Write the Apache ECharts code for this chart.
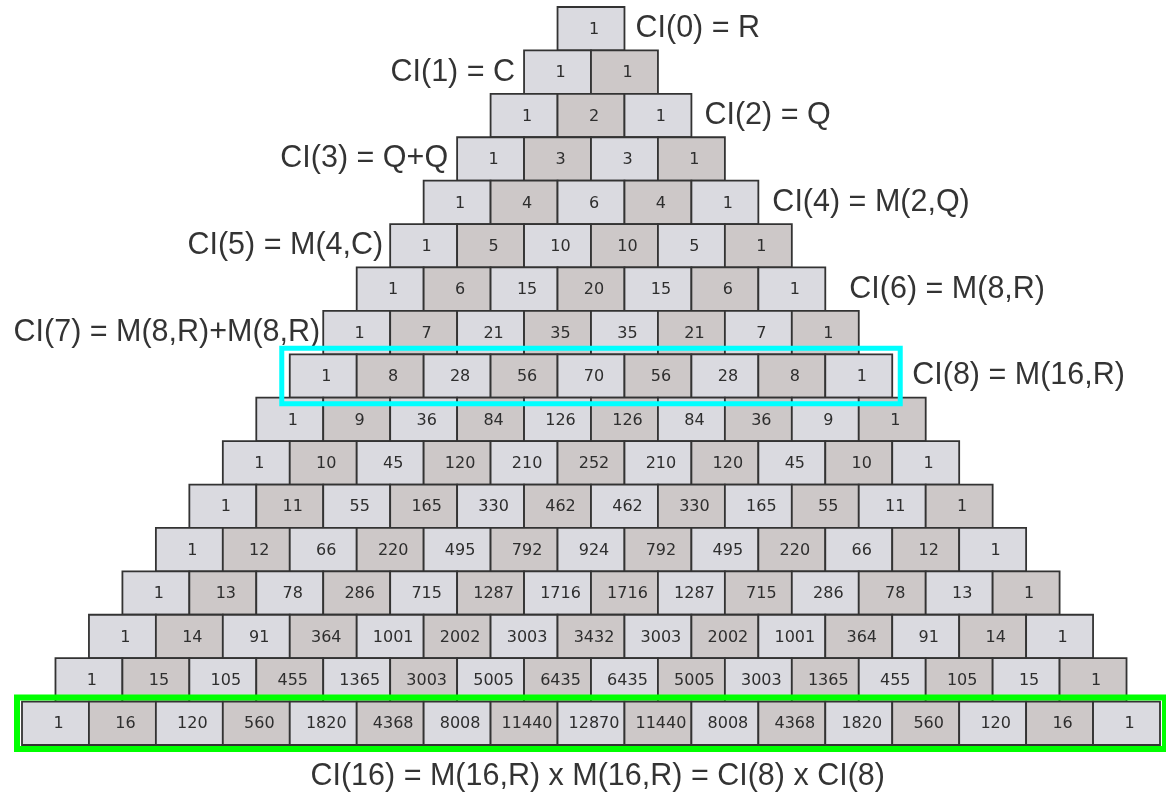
<!DOCTYPE html>
<html>
<head>
<meta charset="utf-8">
<script src="https://cdn.jsdelivr.net/npm/echarts@6/dist/echarts.min.js"></script>
<style>html,body{margin:0;padding:0;background:#fff;}#c{width:1166px;height:797px;}</style>
</head>
<body>
<div id="c"></div>
<script>
const row0 = [1];
const row1 = [1, 1];
const row2 = [1, 2, 1];
const row3 = [1, 3, 3, 1];
const row4 = [1, 4, 6, 4, 1];
const row5 = [1, 5, 10, 10, 5, 1];
const row6 = [1, 6, 15, 20, 15, 6, 1];
const row7 = [1, 7, 21, 35, 35, 21, 7, 1];
const row8 = [1, 8, 28, 56, 70, 56, 28, 8, 1];
const row9 = [1, 9, 36, 84, 126, 126, 84, 36, 9, 1];
const row10 = [1, 10, 45, 120, 210, 252, 210, 120, 45, 10, 1];
const row11 = [1, 11, 55, 165, 330, 462, 462, 330, 165, 55, 11, 1];
const row12 = [1, 12, 66, 220, 495, 792, 924, 792, 495, 220, 66, 12, 1];
const row13 = [1, 13, 78, 286, 715, 1287, 1716, 1716, 1287, 715, 286, 78, 13, 1];
const row14 = [1, 14, 91, 364, 1001, 2002, 3003, 3432, 3003, 2002, 1001, 364, 91, 14, 1];
const row15 = [1, 15, 105, 455, 1365, 3003, 5005, 6435, 6435, 5005, 3003, 1365, 455, 105, 15, 1];
const row16 = [1, 16, 120, 560, 1820, 4368, 8008, 11440, 12870, 11440, 8008, 4368, 1820, 560, 120, 16, 1];
const rows = [row0,row1,row2,row3,row4,row5,row6,row7,row8,row9,row10,row11,row12,row13,row14,row15,row16];

const sideLabelRows = [0, 1, 2, 3, 4, 5, 6, 7, 8];
const sideLabelTexts = ['CI(0) = R', 'CI(1) = C', 'CI(2) = Q', 'CI(3) = Q+Q', 'CI(4) = M(2,Q)',
  'CI(5) = M(4,C)', 'CI(6) = M(8,R)', 'CI(7) = M(8,R)+M(8,R)', 'CI(8) = M(16,R)'];
const bottomLabel = 'CI(16) = M(16,R) x M(16,R) = CI(8) x CI(8)';
const highlightRows = [8, 16];

// build cell data: [xCenter, row, value, k]
const cells = [];
rows.forEach((r, n) => r.forEach((v, k) => cells.push([k - n / 2, n, v, k])));

// styling (not data)
const labelGap = {0: 11, 1: 9, 2: 13, 3: 9, 4: 14, 5: 7, 6: 24, 7: 3, 8: 20};
const hlStyle = {8: {color: '#00ffff', w: 5, padX: 8, padY: 6}, 16: {color: '#00ff00', w: 6, padX: 5, padY: 4}};

const labelStyle = {color: '#000000', fontSize: 30.5, fontFamily: '"Liberation Sans", Arial, sans-serif', textBorderWidth: 0};

const sideData = sideLabelRows.map((n, i) => {
  const right = n % 2 === 0;
  return {
    value: [(right ? 1 : -1) * (n + 1) / 2, n],
    label: Object.assign({show: true, formatter: sideLabelTexts[i], position: right ? 'right' : 'left', distance: labelGap[n]}, labelStyle)
  };
});

const chart = echarts.init(document.getElementById('c'), null, {renderer: 'canvas'});
chart.setOption({
  animation: false,
  backgroundColor: '#ffffff',
  grid: {left: 22, right: 6, top: 7, bottom: 52},
  xAxis: {type: 'value', min: -8.5, max: 8.5, show: false},
  yAxis: {type: 'value', min: -0.5, max: 16.5, inverse: true, show: false},
  series: [
    {
      type: 'custom',
      data: cells,
      clip: false,
      renderItem: function (params, api) {
        const p = api.coord([api.value(0), api.value(1)]);
        const s = api.size([1, 1]);
        const k = api.value(3);
        return {
          type: 'group',
          children: [
            {type: 'rect', shape: {x: p[0] - s[0] / 2, y: p[1] - s[1] / 2, width: s[0], height: s[1]},
              style: {fill: k % 2 ? '#cdc8c8' : '#dadae0', stroke: '#333333', lineWidth: 1.8}},
            {type: 'text', style: {text: String(api.value(2)), x: p[0] + 3, y: p[1] + 1, align: 'center', verticalAlign: 'middle',
              font: '16px "DejaVu Sans"', fill: '#2e2e2e'}}
          ]
        };
      }
    },
    {
      type: 'custom',
      data: highlightRows.map(n => [0, n, rows[n].length]),
      clip: false,
      z: 5,
      renderItem: function (params, api) {
        const n = api.value(1);
        const cnt = api.value(2);
        const st = hlStyle[n];
        const l = api.coord([-cnt / 2, n - 0.5]);
        const r = api.coord([cnt / 2, n + 0.5]);
        return {
          type: 'rect',
          shape: {x: l[0] - st.padX, y: l[1] - st.padY, width: r[0] - l[0] + 2 * st.padX, height: r[1] - l[1] + 2 * st.padY},
          style: {fill: 'none', stroke: st.color, lineWidth: st.w}
        };
      }
    },
    {
      type: 'scatter',
      symbolSize: 0,
      clip: false,
      silent: true,
      data: sideData.concat([{value: [0.1, 17.22], label: Object.assign({show: true, formatter: bottomLabel, position: 'inside'}, labelStyle)}])
    }
  ]
});
</script>
</body>
</html>
